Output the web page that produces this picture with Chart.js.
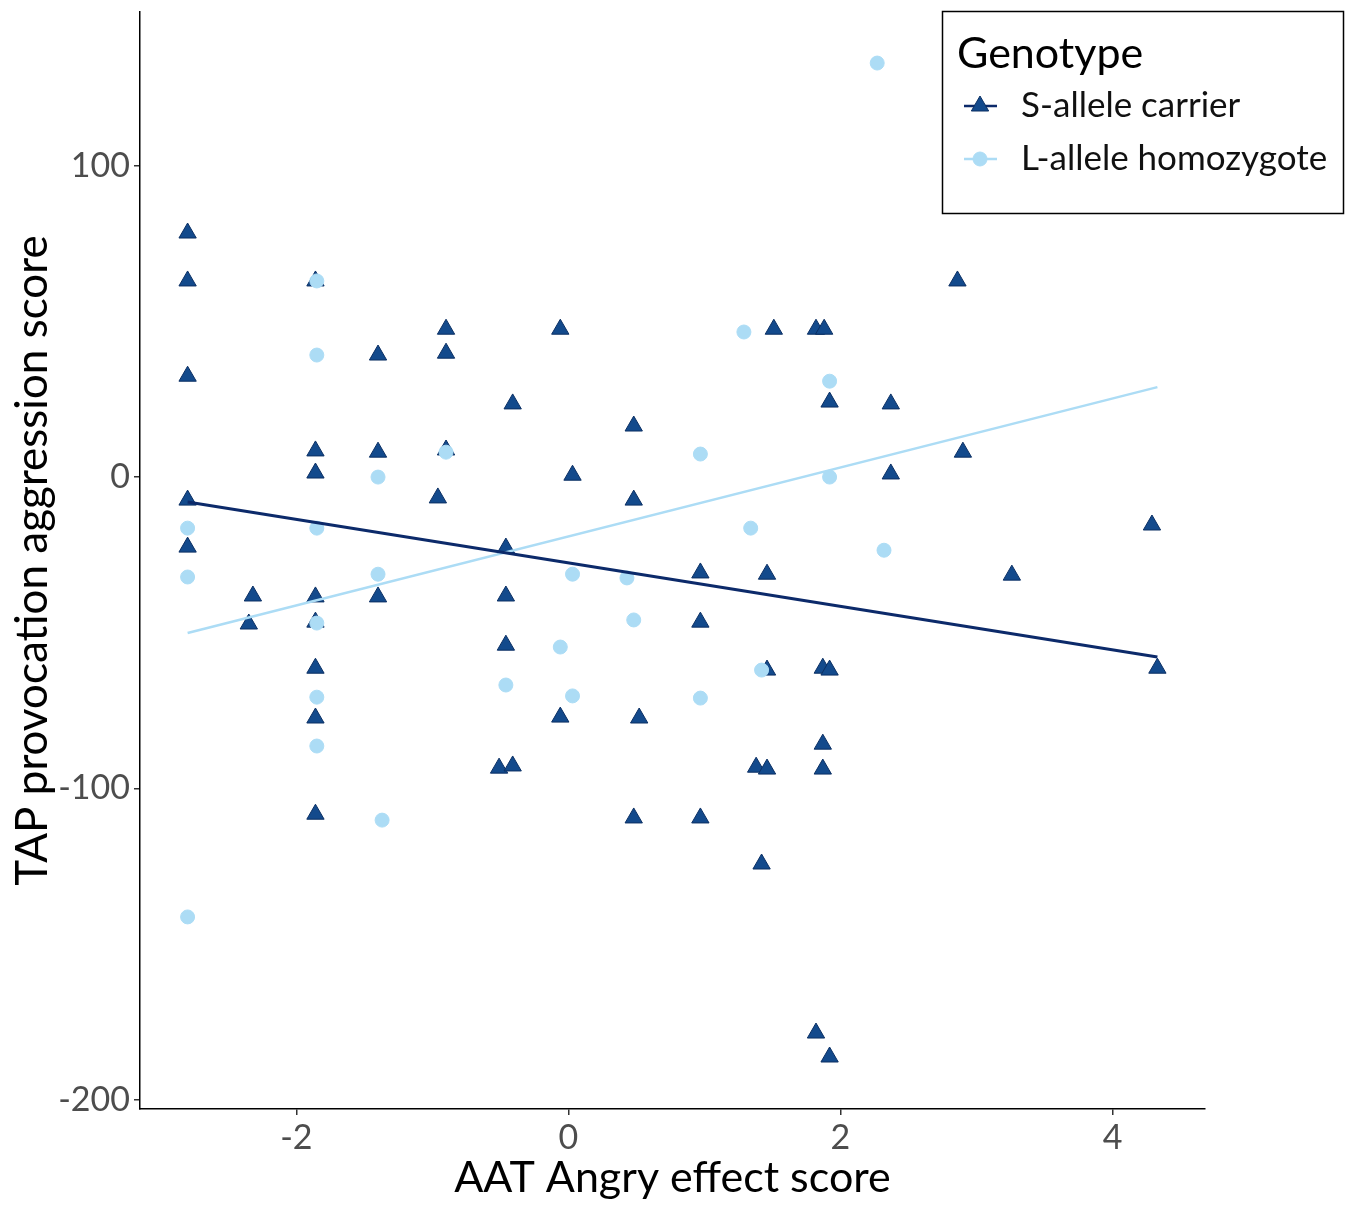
<!DOCTYPE html>
<html>
<head>
<meta charset="utf-8">
<script src="https://cdn.jsdelivr.net/npm/chart.js@4.4.0/dist/chart.umd.min.js"></script>
<style>
  html, body { margin: 0; padding: 0; background: #fff; }
  #wrap { width: 1350px; height: 1214px; }
</style>
</head>
<body>
<div id="wrap"><canvas id="canvas"></canvas></div>
<script>
'use strict';
// data
var sX = [-2.80,-2.80,-2.80,-2.80,-2.80,-1.86,-1.86,-1.86,-1.86,-1.86,-1.86,-1.86,-1.86,-2.32,-2.35,-1.40,-1.40,-1.40,-0.90,-0.90,-0.90,-0.96,-0.41,-0.46,-0.46,-0.46,-0.51,-0.41,-0.06,0.03,-0.06,0.48,0.48,0.52,0.48,0.97,0.97,0.97,1.51,1.82,1.88,1.92,1.46,1.46,1.87,1.92,1.87,1.87,1.38,1.46,1.42,1.82,1.92,2.37,2.37,2.86,2.90,3.26,4.29,4.33];
var sY = [78.4,63.0,32.4,-7.4,-22.5,63.0,8.4,1.3,-38.5,-46.6,-61.4,-77.4,-108.3,-38.2,-47.2,39.2,8.0,-38.5,47.5,39.8,8.7,-6.7,23.5,-22.8,-38.2,-54.0,-93.5,-92.8,47.5,0.6,-77.1,16.4,-7.4,-77.4,-109.5,-30.8,-46.6,-109.5,47.5,47.5,47.5,24.1,-31.2,-62.0,-61.4,-62.0,-85.8,-93.8,-93.2,-93.8,-124.3,-178.6,-186.3,23.5,1.0,63.0,8.0,-31.5,-15.4,-61.4];
var lX = [-2.80,-2.80,-2.80,-1.85,-1.85,-1.85,-1.85,-1.85,-1.85,-1.40,-1.40,-1.37,-0.90,-0.46,-0.06,0.03,0.03,0.43,0.48,0.97,0.97,1.29,1.34,1.42,1.92,1.92,2.32,2.27];
var lY = [-16.4,-32.1,-141.3,63.0,39.2,-16.4,-46.9,-70.7,-86.4,0.0,-31.2,-110.2,8.0,-66.8,-54.6,-31.2,-70.3,-32.4,-45.9,7.4,-71.0,46.6,-16.4,-62.0,30.8,0.0,-23.5,133.0];
// fitted lines (end points)
var fitSX = [-2.80, 4.33];
var fitSY = [-8.0, -57.8];
var fitLX = [-2.80, 4.33];
var fitLY = [-50.1, 28.9];
var xTicks = [-2, 0, 2, 4];
var yTicks = [-200, -100, 0, 100];

function pts(xs, ys) {
	return xs.map(function(x, i) { return {x: x, y: ys[i]}; });
}

var DARK = '#134a8c';
var DARK_EDGE = '#0b2f63';
var DARK_LINE = '#0c2a6a';
var LIGHT = '#acdcf5';

Chart.defaults.font.family = 'Lato, "Open Sans", sans-serif';

// legend box drawn like the ggplot one
var legendBox = {
	id: 'legendBox',
	afterDraw: function(chart) {
		var ctx = chart.ctx;
		ctx.save();
		ctx.strokeStyle = '#000';
		ctx.lineWidth = 1.5;
		ctx.strokeRect(942.5, 11.5, 401, 202);
		ctx.fillStyle = '#000';
		ctx.textBaseline = 'middle';
		ctx.textAlign = 'left';
		ctx.font = '43px Lato';
		ctx.fillText('Genotype', 957, 54);
		ctx.font = '35px Lato';
		var rows = [
			{label: 'S-allele carrier', y: 106, color: DARK, line: DARK_LINE, style: 'triangle', r: 10},
			{label: 'L-allele homozygote', y: 159, color: LIGHT, line: LIGHT, style: 'circle', r: 7}
		];
		rows.forEach(function(row) {
			ctx.strokeStyle = row.line;
			ctx.lineWidth = 2.5;
			ctx.beginPath();
			ctx.moveTo(964, row.y);
			ctx.lineTo(997, row.y);
			ctx.stroke();
			ctx.fillStyle = row.color;
			ctx.strokeStyle = row.style === 'triangle' ? DARK_EDGE : LIGHT;
			ctx.lineWidth = 1;
			Chart.helpers.drawPoint(ctx, {pointStyle: row.style, radius: row.r, borderWidth: 1}, 980, row.y);
			ctx.fillStyle = '#111';
			ctx.fillText(row.label, 1021, row.y);
		});
		ctx.restore();
	}
};

var ctx = document.getElementById('canvas').getContext('2d');
window.myScatter = new Chart(ctx, {
	type: 'scatter',
	data: {
		datasets: [{
			type: 'line',
			label: 'fit S',
			data: pts(fitSX, fitSY),
			borderColor: DARK_LINE,
			borderWidth: 3,
			pointRadius: 0,
			order: 0
		}, {
			type: 'line',
			label: 'fit L',
			data: pts(fitLX, fitLY),
			borderColor: LIGHT,
			borderWidth: 2.5,
			pointRadius: 0,
			order: 1
		}, {
			label: 'L-allele homozygote',
			data: pts(lX, lY),
			pointStyle: 'circle',
			pointRadius: 7,
			backgroundColor: LIGHT,
			borderColor: LIGHT,
			borderWidth: 1,
			order: 2
		}, {
			label: 'S-allele carrier',
			data: pts(sX, sY),
			pointStyle: 'triangle',
			pointRadius: 10,
			backgroundColor: DARK,
			borderColor: DARK_EDGE,
			borderWidth: 1,
			order: 3
		}]
	},
	options: {
		responsive: true,
		maintainAspectRatio: false,
		animation: false,
		layout: { padding: { top: 12, right: 145, left: 0, bottom: 0 } },
		plugins: {
			legend: { display: false },
			tooltip: { enabled: false }
		},
		scales: {
			x: {
				type: 'linear',
				min: -3.15,
				max: 4.68,
				afterBuildTicks: function(scale) {
					scale.ticks = xTicks.map(function(v) { return {value: v}; });
				},
				afterFit: function(scale) {
					scale.height = 105;
					scale.paddingLeft = 0;
					scale.paddingRight = 0;
				},
				border: { display: true, color: '#000', width: 1.5 },
				grid: { drawOnChartArea: false, drawTicks: true, tickLength: 6, color: '#333', lineWidth: 1.5 },
				ticks: { color: '#4d4d4d', font: { size: 34 }, padding: 3, maxRotation: 0 },
				title: {
					display: true,
					text: 'AAT Angry effect score',
					color: '#000',
					font: { size: 43 },
					padding: { top: 4, bottom: 10 }
				}
			},
			y: {
				type: 'linear',
				min: -203,
				max: 149.4,
				afterBuildTicks: function(scale) {
					scale.ticks = yTicks.map(function(v) { return {value: v}; });
				},
				afterFit: function(scale) {
					scale.width = 140;
					scale.paddingTop = 0;
					scale.paddingBottom = 0;
				},
				border: { display: true, color: '#000', width: 1.5 },
				grid: { drawOnChartArea: false, drawTicks: true, tickLength: 6, color: '#333', lineWidth: 1.5 },
				ticks: { color: '#4d4d4d', font: { size: 34 }, padding: 4 },
				title: {
					display: true,
					text: 'TAP provocation aggression score',
					color: '#000',
					font: { size: 44 },
					padding: { top: 6, bottom: 4 }
				}
			}
		}
	},
	plugins: [legendBox]
});
</script>
</body>
</html>
